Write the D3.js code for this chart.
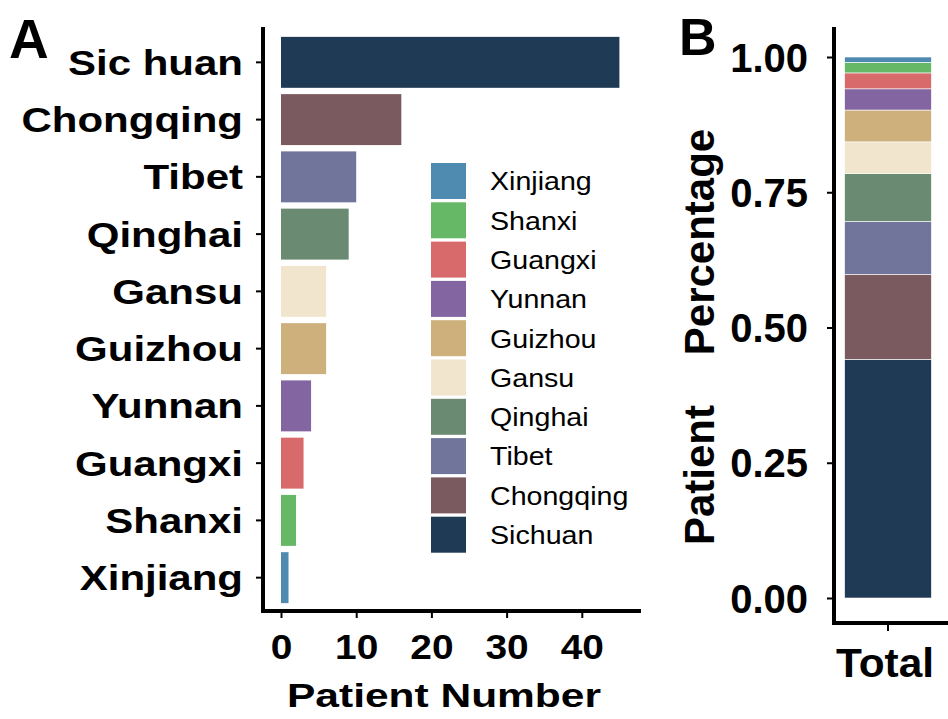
<!DOCTYPE html>
<html>
<head>
  <meta charset="UTF-8">
  <script src="https://d3js.org/d3.v7.min.js"></script>
  <style>
    body { margin: 0; padding: 0; background: #fff; }
    svg { display: block; font-family: "Liberation Sans", Arial, sans-serif; }
    .tick text { font-weight: bold; fill: #000; }
    .tick line { stroke: #000; stroke-width: 2; }
  </style>
</head>
<body>
  <svg id="chart" width="948" height="719"></svg>
  <script>
    // provinces, top bar to bottom bar
    const provinces = ["Sichuan", "Chongqing", "Tibet", "Qinghai", "Gansu", "Guizhou", "Yunnan", "Guangxi", "Shanxi", "Xinjiang"];
    const patients = [45, 16, 10, 9, 6, 6, 4, 3, 2, 1];
    const colors = ["#1f3a54", "#7a5a5f", "#72759b", "#6a8b72", "#f1e5cd", "#cdb07c", "#8366a1", "#d96a6c", "#66b866", "#4f8bb0"];
    const xTicks = [0, 10, 20, 30, 40];
    const pctTicks = [0, 0.25, 0.5, 0.75, 1];

    const svg = d3.select("#chart");
    const color = d3.scaleOrdinal().domain(provinces).range(colors);
    const sx = 1.2; // the panel A lettering is wide

    // ---- panel A ----
    const x = d3.scaleLinear().domain([0, 45]).range([281, 619.4]);
    const y = d3.scaleBand().domain(provinces).range([34, 606]).paddingInner(0.11).paddingOuter(0.05);

    const gA = svg.append("g");

    gA.selectAll("rect.bar")
      .data(provinces)
      .join("rect")
      .attr("class", "bar")
      .attr("x", x(0))
      .attr("y", d => y(d))
      .attr("width", (d, i) => x(patients[i]) - x(0))
      .attr("height", y.bandwidth())
      .attr("fill", d => color(d));

    const yAxA = gA.append("g")
      .attr("transform", "translate(263,0)")
      .call(d3.axisLeft(y).tickSize(7));
    yAxA.select(".domain").remove();
    yAxA.selectAll("text").style("font-size", "35px")
      .text(d => d === "Sichuan" ? "Sic huan" : d)
      .attr("x", -20 / sx)
      .attr("dy", "0.36em")
      .attr("transform", `scale(${sx},1)`);

    const xAxA = gA.append("g")
      .attr("transform", "translate(0,611)")
      .call(d3.axisBottom(x).tickValues(xTicks).tickSize(7).tickPadding(15));
    xAxA.select(".domain").remove();
    xAxA.selectAll("text").style("font-size", "36px")
      .attr("transform", "scale(1.08,1)");

    gA.append("line").attr("x1", 263).attr("x2", 263).attr("y1", 27).attr("y2", 613)
      .attr("stroke", "#000").attr("stroke-width", 4);
    gA.append("line").attr("x1", 261).attr("x2", 641).attr("y1", 611).attr("y2", 611)
      .attr("stroke", "#000").attr("stroke-width", 4);

    gA.append("text")
      .attr("transform", "translate(444,707) scale(1.25,1)")
      .attr("text-anchor", "middle")
      .style("font-size", "34px").style("font-weight", "bold")
      .text("Patient Number");

    svg.append("text").attr("x", 9).attr("y", 58)
      .style("font-size", "55px").style("font-weight", "bold").text("A");

    // legend (reversed order)
    const legendItems = provinces.slice().reverse();
    const leg = svg.append("g").attr("transform", "translate(431,163)");
    const li = leg.selectAll("g")
      .data(legendItems)
      .join("g")
      .attr("transform", (d, i) => `translate(0,${i * 39.3})`);
    li.append("rect").attr("width", 35).attr("height", 36).attr("fill", d => color(d));
    li.append("text")
      .attr("transform", "translate(59,18) scale(1.1,1)")
      .attr("dy", "0.36em")
      .style("font-size", "26px").text(d => d);

    // ---- panel B ----
    const total = d3.sum(patients);
    let acc = 0;
    const stack = provinces.map((p, i) => {
      const s = { name: p, y0: acc / total, y1: (acc + patients[i]) / total };
      acc += patients[i];
      return s;
    });

    const xB = d3.scaleBand().domain(["Total"]).range([835, 941]).paddingInner(0.1).paddingOuter(0.1);
    const yB = d3.scaleLinear().domain([0, 1]).range([598, 57]);

    const gB = svg.append("g");
    gB.selectAll("rect")
      .data(stack)
      .join("rect")
      .attr("x", xB("Total"))
      .attr("width", xB.bandwidth())
      .attr("y", d => yB(d.y1))
      .attr("height", d => yB(d.y0) - yB(d.y1))
      .attr("fill", d => color(d.name))
      .attr("stroke", "#fff").attr("stroke-width", 0.6);

    const yAxB = gB.append("g")
      .attr("transform", "translate(835,0)")
      .call(d3.axisLeft(yB).tickValues(pctTicks).tickFormat(d3.format(".2f")).tickSize(8).tickPadding(19));
    yAxB.select(".domain").remove();
    yAxB.selectAll("text").style("font-size", "40px").attr("dy", "0.35em");

    const xAxB = gB.append("g")
      .attr("transform", "translate(0,623)")
      .call(d3.axisBottom(xB).tickSize(8).tickPadding(18));
    xAxB.select(".domain").remove();
    xAxB.selectAll("text").style("font-size", "40px")
      .attr("transform", "translate(-3,0) scale(1.06,1)");

    gB.append("line").attr("x1", 834).attr("x2", 834).attr("y1", 27).attr("y2", 625)
      .attr("stroke", "#000").attr("stroke-width", 4);
    gB.append("line").attr("x1", 832).attr("x2", 948).attr("y1", 623).attr("y2", 623)
      .attr("stroke", "#000").attr("stroke-width", 4);

    const yLab = gB.append("g").attr("transform", "translate(714,0) rotate(-90)");
    yLab.append("text")
      .attr("x", -242).attr("text-anchor", "middle")
      .style("font-size", "42px").style("font-weight", "bold")
      .text("Percentage");
    yLab.append("text")
      .attr("x", -475).attr("text-anchor", "middle")
      .style("font-size", "42px").style("font-weight", "bold")
      .text("Patient");

    svg.append("text").attr("x", 679).attr("y", 55)
      .style("font-size", "52px").style("font-weight", "bold").text("B");
  </script>
</body>
</html>
